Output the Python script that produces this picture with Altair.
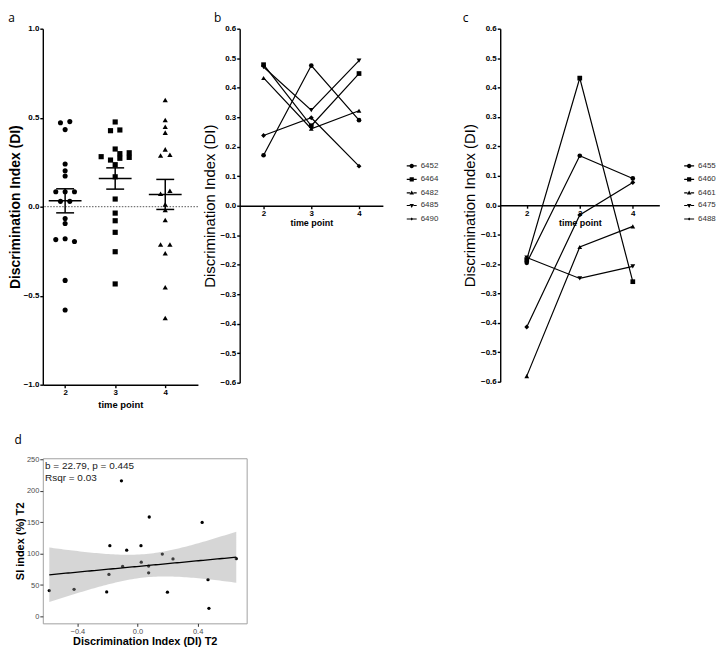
import altair as alt
import numpy as np
import pandas as pd

FONT = "Liberation Sans"
LETTER_FONT = "Open Sans"

# ---------------- panel a : DI per time point ----------------
a_timepoints = [2, 3, 4]
a_t2 = [0.472, 0.478, 0.433, 0.240, 0.202, 0.172, 0.084, 0.084, 0.084, 0.030, 0.030,
        -0.067, -0.094, -0.185, -0.180, -0.196, -0.414, -0.580]
a_t2_slot = [-1, 1, 0, 0, 0, 0, -2, 0, 2, -1, 1, 0, 0, -2, 0, 2, 0, 0]
a_t3 = [0.476, 0.427, 0.431, 0.324, 0.298, 0.281, 0.262, 0.272, 0.303, 0.277, 0.236,
        0.168, 0.043, -0.036, -0.079, -0.144, -0.253, -0.434]
a_t3_slot = [0, -1, 1, 0, 1, -3, -1, 1, 3, 3, 0, 0, 0, 0, 0, 0, 0, 0]
a_t4 = [0.599, 0.487, 0.449, 0.416, 0.322, 0.288, 0.292, 0.073, 0.090, 0.013, -0.019,
        -0.075, -0.212, -0.212, -0.262, -0.453, -0.625]
a_t4_slot = [0, 0, 0, 0, 0, -1, 1, -1, 1, 0, 0, 0, -1, 1, 0, 0, 0]
a_yticks = [-1.0, -0.5, 0.0, 0.5, 1.0]

# ---------------- panels b, c : individual trajectories ----------------
tp_ticks = [2, 3, 4]
b_ids = ["6452", "6464", "6482", "6485", "6490"]
b_t2 = [0.171, 0.478, 0.433, 0.470, 0.238]
b_t3 = [0.475, 0.271, 0.261, 0.324, 0.298]
b_t4 = [0.290, 0.448, 0.322, 0.492, 0.134]

c_ids = ["6455", "6460", "6461", "6475", "6488"]
c_t2 = [-0.196, -0.185, -0.581, -0.178, -0.414]
c_t3 = [0.168, 0.432, -0.142, -0.249, -0.033]
c_t4 = [0.091, -0.260, -0.072, -0.208, 0.077]

traj_yticks = [-0.6, -0.5, -0.4, -0.3, -0.2, -0.1, 0.0, 0.1, 0.2, 0.3, 0.4, 0.5, 0.6]

# ---------------- panel d : SI index vs DI ----------------
d_x = [-0.587, -0.422, -0.205, -0.190, -0.184, -0.107, -0.099, -0.072, 0.023, 0.025,
       0.078, 0.074, 0.074, 0.165, 0.199, 0.236, 0.430, 0.469, 0.475, 0.657]
d_y = [41.2, 43.2, 39.1, 66.9, 112.7, 216.0, 79.7, 105.5, 112.7, 86.4,
       158.4, 80.2, 69.4, 99.3, 38.6, 91.6, 149.7, 58.6, 12.9, 92.1]
d_in_fit = [True, True, True, True, True, False, True, True, True, True,
            True, True, True, True, True, True, True, True, True, True]
d_text = ["b = 22.79, p = 0.445", "Rsqr = 0.03"]
d_text_x = [-0.615, -0.615]
d_text_y = [240, 221]
d_xticks = [-0.4, 0.0, 0.4]
d_yticks = [0, 50, 100, 150, 200, 250]

# ---------------- styling helpers ----------------
prism = dict(grid=False, domainColor="black", domainWidth=1.4, tickColor="black",
             tickWidth=1.4, tickSize=3, labelFont=FONT, labelFontSize=8,
             labelFontWeight="bold", labelColor="black", labelPadding=1,
             titleFont=FONT, titleColor="black")


def letter_title(t, offset, dx=0):
    return alt.TitleParams(t, anchor="start", frame="bounds", font=LETTER_FONT,
                           fontSize=12, fontWeight="normal", color="black",
                           offset=offset, dx=dx)


# ---------------- panel a ----------------
A_W, A_H = 156, 358
A_XDOM = [1.554, 4.653]
slot_w = 4.7 * (A_XDOM[1] - A_XDOM[0]) / A_W
mean_half = 16.5 * (A_XDOM[1] - A_XDOM[0]) / A_W
cap_half = 9.0 * (A_XDOM[1] - A_XDOM[0]) / A_W

rows = []
for tp, vals, slots in zip(a_timepoints, [a_t2, a_t3, a_t4], [a_t2_slot, a_t3_slot, a_t4_slot]):
    for v, s in zip(vals, slots):
        rows.append({"tp": tp, "grp": str(tp), "v": v, "slot": s})
dfa = pd.DataFrame(rows)

xa = alt.Scale(domain=A_XDOM, nice=False, zero=False)
ya = alt.Scale(domain=[-1, 1], nice=False, zero=False)
ax_ya = alt.Axis(values=a_yticks, format=".1f", title="Discrimination Index (DI)",
                 titleFontSize=14, titleFontWeight="bold", titlePadding=1, **prism)
ax_xa = alt.Axis(values=tp_ticks, format="d", title="time point",
                 titleFontSize=9.5, titleFontWeight="bold", titlePadding=3, **prism)

base_a = alt.Chart(dfa)
zero_a = alt.Chart(pd.DataFrame({"z": [0.0]})).mark_rule(
    color="#555555", strokeDash=[1.5, 1.5], strokeWidth=1
).encode(y=alt.Y("z:Q", scale=ya, axis=ax_ya))

pts_a = base_a.transform_calculate(
    px=f"datum.tp + datum.slot * {slot_w}"
).mark_point(filled=True, color="black", opacity=1).encode(
    x=alt.X("px:Q", scale=xa, axis=ax_xa),
    y=alt.Y("v:Q", scale=ya, axis=ax_ya),
    shape=alt.Shape("grp:N", scale=alt.Scale(domain=["2", "3", "4"],
                                             range=["circle", "square", "triangle-up"]),
                    legend=None),
    size=alt.Size("grp:N", scale=alt.Scale(domain=["2", "3", "4"], range=[26, 28, 24]),
                  legend=None),
)

summ = base_a.transform_aggregate(
    m="mean(v)", se="stderr(v)", groupby=["tp"]
).transform_calculate(
    lo="datum.m - datum.se", hi="datum.m + datum.se",
    xl=f"datum.tp - {mean_half}", xr=f"datum.tp + {mean_half}",
    cl=f"datum.tp - {cap_half}", cr=f"datum.tp + {cap_half}",
)
mean_a = summ.mark_rule(color="black", strokeWidth=1.5).encode(
    x=alt.X("xl:Q", scale=xa, axis=ax_xa), x2="xr:Q", y=alt.Y("m:Q", scale=ya, axis=ax_ya))
caphi_a = summ.mark_rule(color="black", strokeWidth=1.5).encode(
    x=alt.X("cl:Q", scale=xa, axis=ax_xa), x2="cr:Q", y=alt.Y("hi:Q", scale=ya, axis=ax_ya))
caplo_a = summ.mark_rule(color="black", strokeWidth=1.5).encode(
    x=alt.X("cl:Q", scale=xa, axis=ax_xa), x2="cr:Q", y=alt.Y("lo:Q", scale=ya, axis=ax_ya))
vert_a = summ.mark_rule(color="black", strokeWidth=1.5).encode(
    x=alt.X("tp:Q", scale=xa, axis=ax_xa), y=alt.Y("lo:Q", scale=ya, axis=ax_ya), y2="hi:Q")

panel_a = alt.layer(zero_a, pts_a, mean_a, caphi_a, caplo_a, vert_a).properties(
    width=A_W, height=A_H, title=letter_title("a", 0))

# ---------------- panels b, c ----------------
traj_shapes = ["circle", "square", "triangle-up", "triangle-down", "diamond"]
traj_sizes = [22, 24, 22, 22, 9]
LINE_L = "M-1,-0.12H-0.34V0.12H-1Z"
LINE_R = "M0.34,-0.12H1V0.12H0.34Z"
legend_paths = [
    LINE_L + LINE_R + "M0.45,0A0.45,0.45,0,1,1,-0.45,0A0.45,0.45,0,1,1,0.45,0Z",
    LINE_L + LINE_R + "M-0.42,-0.42H0.42V0.42H-0.42Z",
    LINE_L + LINE_R + "M0,-0.5L0.45,0.32H-0.45Z",
    LINE_L + LINE_R + "M0,0.5L0.45,-0.32H-0.45Z",
    "M-1,-0.12H-0.2V0.12H-1Z" + "M0.2,-0.12H1V0.12H0.2Z" + "M0,-0.3L0.3,0L0,0.3L-0.3,0Z",
]


def traj_panel(ids, t2, t3, t4, W, H, letter, leg_x, leg_y, letter_dx):
    rows = []
    for i, pid in enumerate(ids):
        for tp, arr in zip(tp_ticks, [t2, t3, t4]):
            rows.append({"id": pid, "tp": tp, "v": arr[i]})
    df = pd.DataFrame(rows)
    xs = alt.Scale(domain=[1.5, 4.5], nice=False, zero=False)
    ys = alt.Scale(domain=[-0.6, 0.6], nice=False, zero=False)
    ax_x = alt.Axis(values=tp_ticks, format="d", title="time point", offset=-H / 2,
                    titleFontSize=9, titleFontWeight="bold", titlePadding=1, **prism)
    ax_y = alt.Axis(values=traj_yticks, format=".1f", title="Discrimination Index (DI)",
                    titleFontSize=15, titleFontWeight="normal", titlePadding=3, **prism)
    base = alt.Chart(df)
    X = alt.X("tp:Q", scale=xs, axis=ax_x)
    Y = alt.Y("v:Q", scale=ys, axis=ax_y)
    lines = base.mark_line(color="black", strokeWidth=1.2).encode(x=X, y=Y, detail="id:N")
    pts = base.mark_point(filled=True, color="black", opacity=1).encode(
        x=X, y=Y,
        shape=alt.Shape("id:N", scale=alt.Scale(domain=ids, range=traj_shapes), legend=None),
        size=alt.Size("id:N", scale=alt.Scale(domain=ids, range=traj_sizes), legend=None),
    )
    leg = base.transform_filter("false").mark_point(
        filled=True, color="black", opacity=1
    ).encode(
        x=X, y=Y,
        shape=alt.Shape("id:N", scale=alt.Scale(domain=ids, range=legend_paths),
                        legend=alt.Legend(orient="none", legendX=leg_x, legendY=leg_y,
                                          direction="vertical", title=None,
                                          labelFont=FONT, labelFontSize=8,
                                          labelColor="#333333", symbolSize=100,
                                          symbolFillColor="black", symbolOpacity=1,
                                          rowPadding=1.6, labelOffset=3, padding=0)),
    )
    return alt.layer(lines, pts, leg).resolve_scale(
        shape="independent", size="independent"
    ).properties(width=W, height=H, title=letter_title(letter, 0, letter_dx))


panel_b = traj_panel(b_ids, b_t2, b_t3, b_t4, 144, 356, "b", 167, 132, 12)
panel_c = traj_panel(c_ids, c_t2, c_t3, c_t4, 160, 355, "c", 184, 132, 0)

# ---------------- panel d ----------------
fx = np.array([x for x, k in zip(d_x, d_in_fit) if k])
fy = np.array([y for y, k in zip(d_y, d_in_fit) if k])
n = len(fx)
xbar, ybar = fx.mean(), fy.mean()
sxx = ((fx - xbar) ** 2).sum()
slope = ((fx - xbar) * (fy - ybar)).sum() / sxx
icpt = ybar - slope * xbar
resid = fy - (icpt + slope * fx)
s_res = np.sqrt((resid ** 2).sum() / (n - 2))
T_CRIT = 2.1098  # t(0.975, df = 17)
gx = np.linspace(fx.min(), fx.max(), 80)
gfit = icpt + slope * gx
gse = s_res * np.sqrt(1.0 / n + (gx - xbar) ** 2 / sxx)
dfit = pd.DataFrame({"gx": gx, "fit": gfit, "lo": gfit - T_CRIT * gse, "hi": gfit + T_CRIT * gse})
dfd = pd.DataFrame({"x": d_x, "y": d_y})
dtext = pd.DataFrame({"x": d_text_x, "y": d_text_y, "t": d_text})

D_W, D_H = 205, 166
xd = alt.Scale(domain=[-0.63, 0.726], nice=False, zero=False)
yd = alt.Scale(domain=[-11, 252], nice=False, zero=False)
gg = dict(grid=False, domain=False, tickColor="#333333", tickWidth=1, tickSize=3,
          labelFont=FONT, labelFontSize=7.5, labelColor="#4d4d4d", labelPadding=1,
          titleFont=FONT, titleFontSize=11, titleFontWeight="bold", titleColor="black")
ax_xd = alt.Axis(values=d_xticks, format=".1f", title="Discrimination Index (DI) T2",
                 titlePadding=1, **gg)
ax_yd = alt.Axis(values=d_yticks, format="d", title="SI index (%) T2", titlePadding=1, **gg)

pts_d = alt.Chart(dfd).mark_circle(size=11, color="black", opacity=1).encode(
    x=alt.X("x:Q", scale=xd, axis=ax_xd), y=alt.Y("y:Q", scale=yd, axis=ax_yd))
band_d = alt.Chart(dfit).mark_area(color="#999999", opacity=0.4).encode(
    x=alt.X("gx:Q", scale=xd, axis=ax_xd),
    y=alt.Y("lo:Q", scale=yd, axis=ax_yd), y2="hi:Q")
line_d = alt.Chart(dfit).mark_line(color="black", strokeWidth=1.3).encode(
    x=alt.X("gx:Q", scale=xd, axis=ax_xd), y=alt.Y("fit:Q", scale=yd, axis=ax_yd))
text_d = alt.Chart(dtext).mark_text(align="left", baseline="middle", font=FONT,
                                    fontSize=10, color="#1a1a1a").encode(
    x=alt.X("x:Q", scale=xd, axis=ax_xd), y=alt.Y("y:Q", scale=yd, axis=ax_yd), text="t:N")

panel_d = alt.layer(pts_d, band_d, line_d, text_d).properties(
    width=D_W, height=D_H,
    view=alt.ViewBackground(stroke="#a0a0a0", strokeWidth=1),
    title=letter_title("d", 9))

spacer = alt.Chart(pd.DataFrame({"s": [0]})).mark_point(opacity=0).encode(
    x=alt.X("s:Q", axis=None), y=alt.Y("s:Q", axis=None)
).properties(width=34, height=10)

top_row = alt.hconcat(panel_a, panel_b, spacer, panel_c, spacing=42, bounds="flush")
bottom_row = alt.hconcat(panel_d)

chart = alt.vconcat(top_row, bottom_row, spacing=23).properties(
    padding={"top": 2, "left": 0, "right": 0, "bottom": 0}).configure_view(strokeWidth=0)

chart.save("out.html", embed_options={"renderer": "svg", "actions": False})
